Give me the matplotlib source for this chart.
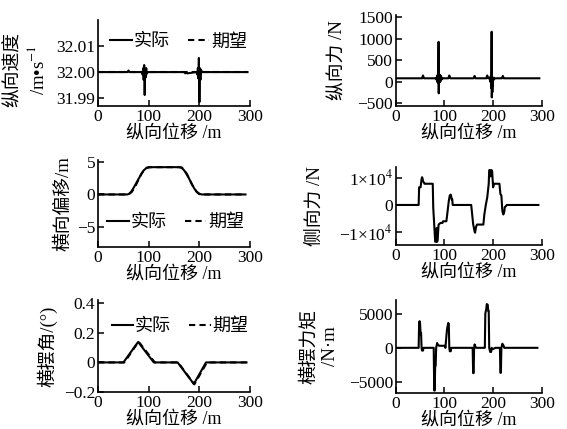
import matplotlib
matplotlib.use('Agg')
import matplotlib.pyplot as plt

plt.rcParams['font.family'] = ['Liberation Serif', 'Noto Sans CJK SC']
plt.rcParams['mathtext.fontset'] = 'stix'

# longitudinal displacement ticks
xticks = [0, 100, 200, 300]

# longitudinal speed (m/s)
px1 = [0, 58, 60, 62, 86, 88, 89, 90, 91, 92, 93, 94, 95, 96, 98,
       170, 172, 174, 176, 194, 196, 197, 198, 199, 200, 201, 202, 203, 205, 295]
v_act = [32.0, 32.0, 32.0006, 32.0, 32.0, 31.999, 32.0015, 31.997, 32.0027, 31.9912,
         32.0012, 31.998, 32.0015, 31.9993, 32.0,
         32.0, 31.9995, 32.0, 31.9995, 32.0, 31.999, 32.0015, 31.9975, 32.0054, 31.9885,
         32.0015, 31.997, 32.001, 32.0, 32.0]
px1e = [0, 295]
v_exp = [32.0, 32.0]

# longitudinal force (N)
px2 = [0, 54, 56, 58, 83, 84, 84.5, 85, 85.5, 86, 86.5, 87, 87.5, 88, 88.3, 88.6,
       89, 89.5, 90, 90.5, 91, 91.5, 92, 92.5, 93, 93.5, 94, 95, 108, 110, 112, 160, 162, 164,
       186, 188, 190, 193, 194, 195, 196, 196.5, 197, 197.3, 197.6, 198, 198.5, 199, 199.5, 200,
       201, 202, 204, 218, 220, 222, 295]
fx = [75, 75, 140, 75, 75, 40, 110, 10, 140, -20, 160, -30, 170, 925, -275, 170,
      -30, 160, -20, 150, 0, 140, 10, 120, 30, 110, 50, 75, 75, 140, 75, 75, 130, 75,
      75, 140, 75, 75, 0, 120, -150, 50, 1160, -370, -200, 30, -250, 20, -100, 60,
      90, 50, 75, 75, 130, 75, 75]

# lateral offset (m)
px3 = [0, 58, 62, 66, 70, 75, 80, 85, 90, 95, 100, 105, 160, 165, 170, 175, 180,
       185, 190, 195, 200, 205, 210, 291]
y_act = [0, 0, 0.15, 0.5, 1.0, 1.7, 2.4, 3.1, 3.7, 4.05, 4.15, 4.2, 4.2, 4.1, 3.7,
         3.1, 2.4, 1.6, 0.9, 0.4, 0.1, 0.0, 0.0, 0.0]
y_exp = [0, 0, 0.1, 0.35, 0.8, 1.5, 2.3, 3.1, 3.7, 4.1, 4.2, 4.2, 4.2, 4.15, 3.8,
         3.2, 2.4, 1.6, 0.9, 0.35, 0.05, 0, 0, 0]

# lateral force (N)
px4 = [0, 47, 48, 51, 53, 54, 55, 56, 58, 59, 76, 77, 79, 81, 83, 84, 85, 86, 88, 92,
       96, 97, 104, 106, 109, 111, 113, 114, 115, 116, 117, 155, 157, 159, 162, 163,
       165, 167, 180, 182, 185, 188, 191, 192, 194, 195, 197, 198, 200, 202, 213, 215,
       217, 219, 221, 223, 224, 226, 228, 293]
fy = [0, 0, 6500, 6500, 9500, 10200, 9800, 8700, 8200, 7800, 7800, -1000, -7200,
      -13500, -13500, -8500, -13500, -12800, -7200, -6600, -6600, -6000, -6000, -3000,
      1500, 3500, 3800, 3000, 2000, 2200, 0, 0, -3500, -7000, -9800, -10200, -8000,
      -7200, -7200, -3500, 0, 2800, 7800, 12800, 12800, 10500, 12800, 12500, 6500,
      7800, 7800, 4000, 3500, -2200, -3500, -2500, -800, -500, 0, 0]

# yaw angle (deg)
px5 = [0, 50, 79, 110, 157, 189, 213, 293]
yaw_act = [0, 0, 0.138, 0, 0, -0.145, 0, 0]
px5e = [0, 52, 80, 112, 158, 190, 215, 293]
yaw_exp = [0, 0, 0.14, 0, 0, -0.148, 0, 0]

# yaw moment (N*m)
px6 = [0, 47, 48, 49, 50, 51, 52, 53, 54, 56, 57, 78, 79, 80, 81, 82, 83, 85, 86, 89,
       101, 102, 105, 106, 108, 109, 110, 111, 113, 114, 158, 159, 160, 161, 162, 163,
       165, 183, 184, 186, 187, 189, 190, 191, 192, 194, 196, 197, 199, 205, 214, 215,
       216, 217, 219, 221, 223, 291]
mz = [0, 0, 3700, 3900, 3500, 2000, 2200, 0, -400, -400, 0, 0, -6250, -6250, -2600,
      -2600, 0, 700, 500, 300, 300, 0, 2500, 3000, 3650, 3400, 0, -500, -500, 0, 0,
      -3700, -3700, 0, 500, 300, 0, 0, 5000, 5700, 6400, 6300, 5400, 5400, 0, -600,
      -600, 0, -200, 0, 0, -3650, -3650, 0, 600, 400, 0, 0]

fig = plt.figure(figsize=(5.67, 4.29), dpi=100)
ax1 = fig.add_axes([0.173, 0.753, 0.268, 0.2005])
ax2 = fig.add_axes([0.698, 0.753, 0.2575, 0.212])
ax3 = fig.add_axes([0.173, 0.424, 0.268, 0.203])
ax4 = fig.add_axes([0.698, 0.429, 0.2575, 0.182])
ax5 = fig.add_axes([0.173, 0.086, 0.268, 0.2145])
ax6 = fig.add_axes([0.698, 0.084, 0.2575, 0.2168])

lw = 1.5
dash = (0, (3, 2))
ylab_fs = 13.5


def style(ax, ylim, yticks):
    for s in ['top', 'right']:
        ax.spines[s].set_visible(False)
    for s in ['left', 'bottom']:
        ax.spines[s].set_linewidth(1.2)
    ax.set_xlim(0, 300)
    ax.set_xticks(xticks)
    ax.set_ylim(*ylim)
    ax.set_yticks(yticks)
    ax.tick_params(direction='in', length=4, width=1.1, labelsize=12.5, pad=2)
    ax.set_xlabel('纵向位移 /m', fontsize=13, labelpad=0)


def add_legend(ax, x, y):
    ax.legend(loc='center', bbox_to_anchor=(x, y), ncol=2, frameon=False,
              fontsize=13, handlelength=1.2, handletextpad=0.1, columnspacing=1.0)


ax1.plot(px1, v_act, 'k-', lw=lw, label='实际')
ax1.plot(px1e, v_exp, color='k', ls=dash, lw=lw, label='期望')
style(ax1, (31.987, 32.02), [31.99, 32.00, 32.01])
ax1.set_yticklabels(['31.99', '32.00', '32.01'])
ax1.set_ylabel('纵向速度\n/m•s$^{-1}$', fontsize=ylab_fs, linespacing=1.3)
ax1.yaxis.set_label_coords(-0.33, 0.42)
add_legend(ax1, 0.53, 0.744)

ax2.plot(px2, fx, 'k-', lw=lw)
style(ax2, (-570, 1550), [-500, 0, 500, 1000, 1500])
ax2.set_ylabel('纵向力 /N', fontsize=ylab_fs)
ax2.yaxis.set_label_coords(-0.34, 0.5)

ax3.plot(px3, y_act, 'k-', lw=lw, label='实际')
ax3.plot(px3, y_exp, color='k', ls=dash, lw=lw, label='期望')
style(ax3, (-8.1, 5.3), [-5, 0, 5])
ax3.set_ylabel('横向偏移/m', fontsize=ylab_fs)
ax3.yaxis.set_label_coords(-0.17, 0.5)
add_legend(ax3, 0.51, 0.28)

ax4.plot(px4, fy, 'k-', lw=lw)
style(ax4, (-14700, 14000), [-10000, 0, 10000])
ax4.set_yticklabels(['−1×10$^4$', '0', '1×10$^4$'])
ax4.set_ylabel('侧向力 /N', fontsize=ylab_fs)
ax4.yaxis.set_label_coords(-0.49, 0.5)

ax5.plot(px5, yaw_act, 'k-', lw=lw, label='实际')
ax5.plot(px5e, yaw_exp, color='k', ls=dash, lw=lw, label='期望')
style(ax5, (-0.2, 0.42), [-0.2, 0, 0.2, 0.4])
ax5.set_yticklabels(['−0.2', '0', '0.2', '0.4'])
ax5.set_ylabel('横摆角/(°)', fontsize=ylab_fs)
ax5.yaxis.set_label_coords(-0.27, 0.5)
add_legend(ax5, 0.54, 0.71)

ax6.plot(px6, mz, 'k-', lw=lw)
style(ax6, (-6600, 7000), [-5000, 0, 5000])
ax6.set_ylabel('横摆力矩\n/N·m', fontsize=ylab_fs, linespacing=1.3)
ax6.yaxis.set_label_coords(-0.39, 0.5)

fig.savefig('out.png', dpi=100)
